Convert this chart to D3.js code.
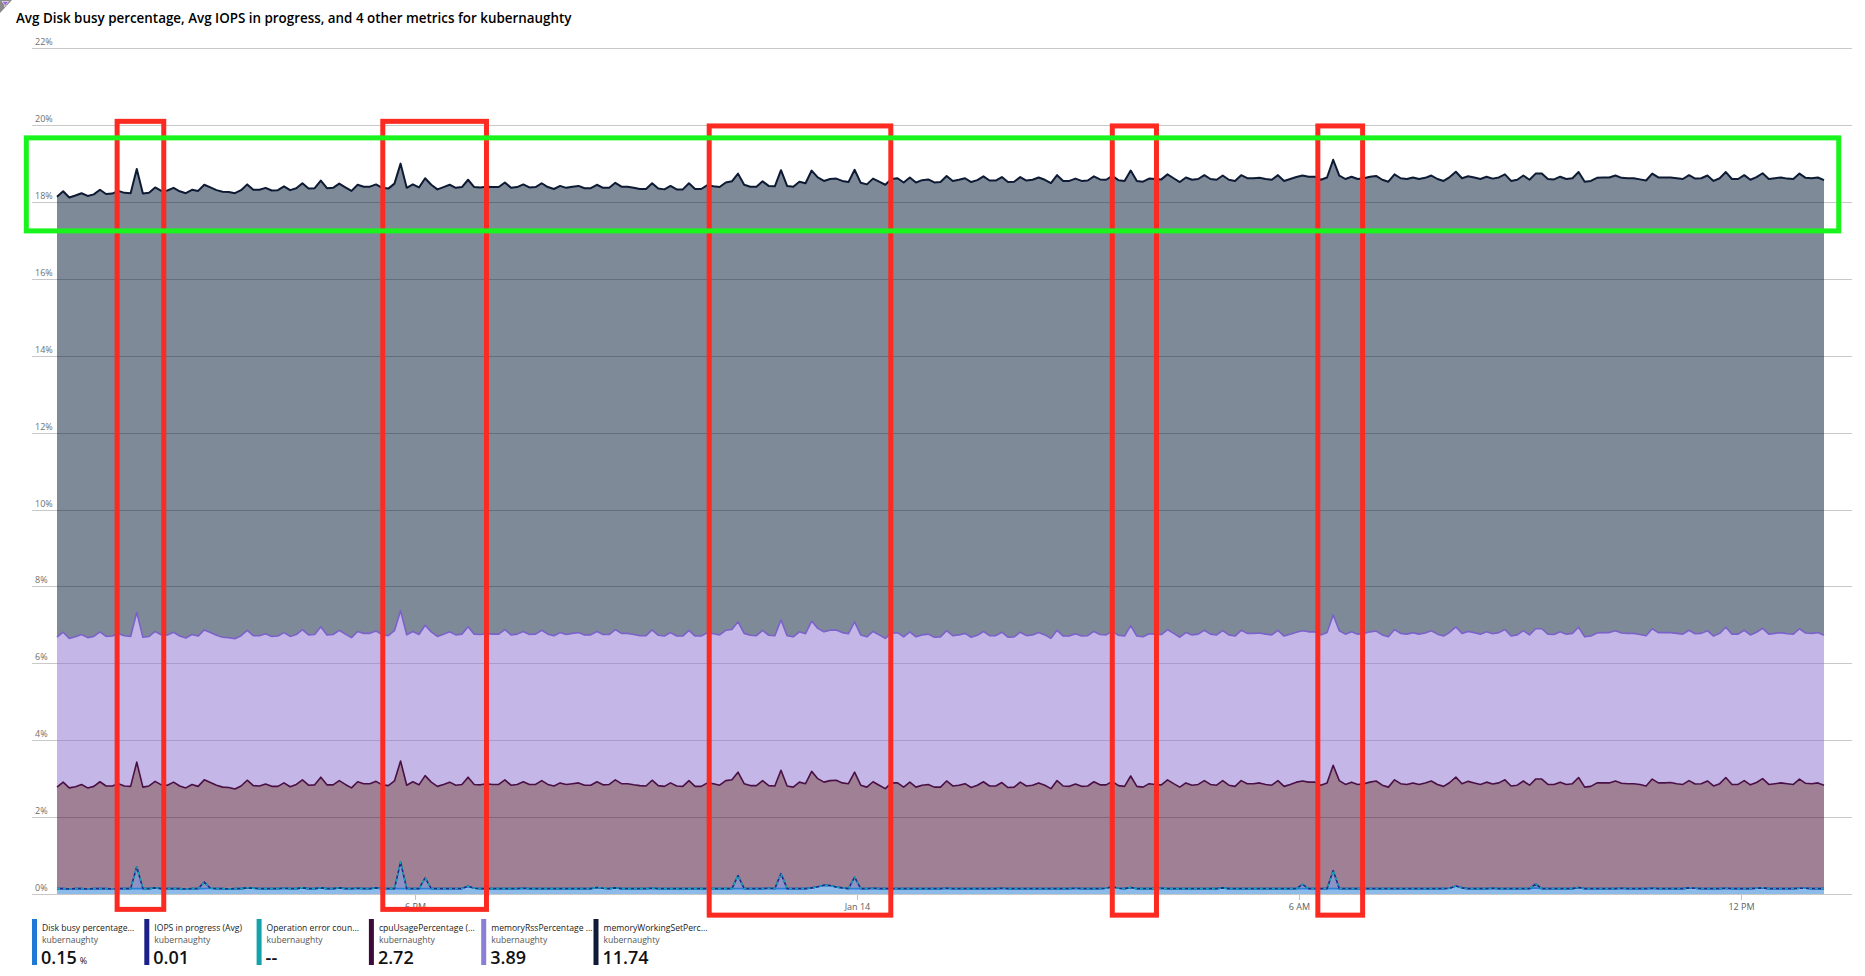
<!DOCTYPE html>
<html><head><meta charset="utf-8">
<script src="https://cdn.jsdelivr.net/npm/d3@7"></script>
<style>
html,body{margin:0;padding:0;background:#fff;}
svg{display:block;font-family:"Open Sans","Noto Sans",sans-serif;}
</style></head><body>
<svg id="chart" width="1865" height="976"></svg>
<script>
// ---------------- DATA ----------------
const chartTitle = "Avg Disk busy percentage, Avg IOPS in progress, and 4 other metrics for kubernaughty";
const startTime = "2020-01-13T13:08:00";
const endTime = "2020-01-14T13:08:00";
const stepMinutes = 5;

const seriesKeys = ["disk", "iops", "err", "cpu", "rss", "ws"];
const legendNames = ["Disk busy percentage...", "IOPS in progress (Avg)", "Operation error coun...", "cpuUsagePercentage (...", "memoryRssPercentage ...", "memoryWorkingSetPerc..."];
const legendResource = "kubernaughty";
const legendValues = ["0.15", "0.01", "--", "2.72", "3.89", "11.74"];
const legendUnits = ["%", "", "", "", "", ""];

const yTicks = [0, 2, 4, 6, 8, 10, 12, 14, 16, 18, 20, 22];
const xTickTimes = ["2020-01-13T18:00:00", "2020-01-14T00:00:00", "2020-01-14T06:00:00", "2020-01-14T12:00:00"];
const xTickLabels = ["6 PM", "Jan 14", "6 AM", "12 PM"];

const disk = [
0.14,0.14,0.13,0.14,0.14,0.13,0.14,0.14,0.14,0.13,
0.14,0.14,0.14,0.14,0.14,0.14,0.16,0.14,0.14,0.14,
0.14,0.13,0.14,0.14,0.14,0.15,0.14,0.14,0.13,0.14,
0.14,0.16,0.15,0.14,0.14,0.14,0.14,0.15,0.14,0.14,
0.16,0.14,0.14,0.16,0.14,0.14,0.16,0.14,0.14,0.15,
0.14,0.14,0.16,0.14,0.14,0.14,0.14,0.14,0.14,0.14,
0.14,0.14,0.14,0.14,0.14,0.14,0.14,0.20,0.15,0.14,
0.14,0.14,0.14,0.14,0.14,0.14,0.15,0.14,0.14,0.14,
0.14,0.14,0.14,0.14,0.14,0.14,0.14,0.14,0.17,0.15,
0.14,0.16,0.14,0.14,0.14,0.14,0.14,0.15,0.14,0.14,
0.14,0.14,0.14,0.14,0.14,0.14,0.14,0.14,0.14,0.14,
0.14,0.14,0.14,0.14,0.14,0.14,0.15,0.14,0.14,0.14,
0.14,0.14,0.14,0.16,0.19,0.23,0.22,0.18,0.16,0.14,
0.14,0.14,0.14,0.15,0.14,0.14,0.14,0.14,0.14,0.14,
0.14,0.14,0.14,0.14,0.14,0.15,0.14,0.14,0.14,0.14,
0.14,0.14,0.14,0.14,0.15,0.14,0.14,0.14,0.14,0.14,
0.14,0.14,0.14,0.14,0.14,0.14,0.15,0.14,0.14,0.14,
0.14,0.15,0.19,0.15,0.14,0.17,0.14,0.14,0.14,0.14,
0.15,0.14,0.14,0.14,0.14,0.14,0.14,0.14,0.14,0.14,
0.16,0.14,0.14,0.14,0.14,0.14,0.14,0.14,0.14,0.14,
0.14,0.14,0.14,0.14,0.14,0.14,0.14,0.14,0.14,0.14,
0.14,0.14,0.14,0.14,0.14,0.14,0.14,0.14,0.14,0.14,
0.14,0.14,0.14,0.14,0.14,0.14,0.14,0.15,0.21,0.16,
0.14,0.14,0.14,0.14,0.15,0.14,0.14,0.14,0.14,0.14,
0.14,0.16,0.14,0.14,0.14,0.14,0.14,0.14,0.17,0.14,
0.14,0.14,0.14,0.14,0.14,0.15,0.14,0.14,0.14,0.14,
0.15,0.14,0.14,0.14,0.14,0.14,0.16,0.15,0.14,0.14,
0.14,0.14,0.15,0.14,0.14,0.14,0.14,0.15,0.16,0.14,
0.14,0.14,0.14,0.14,0.15,0.15,0.14,0.14,0.14];

const iops = [
0,0,0,0,0,0,0,0,0,0,
0,0,0,0.57,0,0,0,0,0,0,
0,0,0,0,0.17,0,0,0,0,0,
0,0,0,0,0,0,0,0,0,0,
0,0,0,0,0,0,0,0,0,0,
0,0,0,0,0,0,0.69,0,0,0,
0.28,0,0,0,0,0,0,0,0,0,
0,0,0,0,0,0,0,0,0,0,
0,0,0,0,0,0,0,0,0,0,
0,0,0,0,0,0,0,0,0,0,
0,0,0,0,0,0,0,0,0,0,
0,0.34,0,0,0,0,0,0,0.39,0,
0,0,0,0,0,0,0,0,0,0,
0.30,0,0,0,0,0,0,0,0,0,
0,0,0,0,0,0,0,0,0,0,
0,0,0,0,0,0,0,0,0,0,
0,0,0,0,0,0,0,0,0,0,
0,0,0,0,0,0,0,0,0,0,
0,0,0,0,0,0,0,0,0,0,
0,0,0,0,0,0,0,0,0,0,
0,0,0,0.11,0,0,0,0,0.47,0,
0,0,0,0,0,0,0,0,0,0,
0,0,0,0,0,0,0,0,0,0,
0,0,0,0,0,0,0,0,0,0,
0,0.10,0,0,0,0,0,0,0,0,
0,0,0,0,0,0,0,0,0,0,
0,0,0,0,0,0,0,0,0,0,
0,0,0,0,0,0,0,0,0,0,
0,0,0,0,0,0,0,0,0];

const err = [
0,0,0,0,0,0,0,0,0,0, 0,0,0,0,0,0,0,0,0,0, 0,0,0,0,0,0,0,0,0,0,
0,0,0,0,0,0,0,0,0,0, 0,0,0,0,0,0,0,0,0,0, 0,0,0,0,0,0,0,0,0,0,
0,0,0,0,0,0,0,0,0,0, 0,0,0,0,0,0,0,0,0,0, 0,0,0,0,0,0,0,0,0,0,
0,0,0,0,0,0,0,0,0,0, 0,0,0,0,0,0,0,0,0,0, 0,0,0,0,0,0,0,0,0,0,
0,0,0,0,0,0,0,0,0,0, 0,0,0,0,0,0,0,0,0,0, 0,0,0,0,0,0,0,0,0,0,
0,0,0,0,0,0,0,0,0,0, 0,0,0,0,0,0,0,0,0,0, 0,0,0,0,0,0,0,0,0,0,
0,0,0,0,0,0,0,0,0,0, 0,0,0,0,0,0,0,0,0,0, 0,0,0,0,0,0,0,0,0,0,
0,0,0,0,0,0,0,0,0,0, 0,0,0,0,0,0,0,0,0,0, 0,0,0,0,0,0,0,0,0,0,
0,0,0,0,0,0,0,0,0,0, 0,0,0,0,0,0,0,0,0,0, 0,0,0,0,0,0,0,0,0,0,
0,0,0,0,0,0,0,0,0,0, 0,0,0,0,0,0,0,0,0];

const cpu = [
2.64,2.77,2.63,2.65,2.71,2.63,2.66,2.78,2.67,2.68,2.73,2.67,2.66,
2.72,
2.64,2.67,2.77,2.70,2.69,2.77,2.67,2.63,2.71,2.66,
2.66,
2.75,2.69,2.64,2.64,2.59,2.67,2.80,2.67,2.67,2.72,2.66,
2.66,2.74,2.65,2.71,2.81,2.69,2.70,2.88,2.70,2.70,2.79,
2.71,2.62,2.77,2.73,2.73,2.77,2.70,2.68,2.80,
2.63,
2.69,2.78,2.70,
2.66,
2.77,2.66,2.71,2.77,2.69,2.71,
2.84,
2.70,2.70,2.73,2.71,2.71,
2.83,2.69,2.71,2.77,2.71,2.71,2.81,2.71,2.67,2.75,2.71,
2.73,2.75,2.69,2.69,2.75,2.69,2.71,2.81,2.73,2.73,2.70,
2.68,2.67,2.81,2.68,2.66,2.75,2.67,2.66,2.81,2.66,2.66,
2.75,2.73,2.69,2.81,2.83,
2.69,
2.73,2.68,2.68,2.81,2.67,2.67,
2.69,
2.67,2.64,2.77,2.73,
3.03,2.81,2.68,2.73,2.78,
2.73,2.73,
2.73,
2.69,2.64,2.77,2.69,2.60,2.75,2.75,2.64,2.77,2.64,2.69,2.71,2.64,
2.64,2.79,2.67,2.69,2.73,2.63,2.69,2.78,2.67,2.67,2.75,
2.63,2.64,2.77,2.67,2.69,2.75,2.69,2.60,2.81,2.67,2.66,
2.71,2.66,2.67,2.78,2.70,2.69,2.74,2.67,2.66,2.90,2.66,
2.64,2.73,2.71,2.69,2.83,2.73,2.64,2.75,2.69,2.71,2.81,
2.71,2.69,2.79,2.69,2.66,2.81,2.73,2.73,2.75,2.71,2.69,
2.81,2.66,2.71,2.77,2.69,2.77,2.77,2.69,2.75,
2.74,
2.81,2.71,2.77,2.71,2.73,2.77,
2.80,2.69,2.64,2.83,2.73,2.71,2.75,2.71,2.75,2.80,2.71,2.66,2.75,
2.83,
2.71,2.79,2.75,2.71,2.77,2.71,2.75,2.83,2.67,2.69,2.80,2.69,
2.73,
2.85,2.71,2.71,2.77,2.71,2.73,2.86,2.64,2.66,2.75,2.75,
2.75,2.80,2.73,2.73,2.73,2.71,2.67,2.84,2.75,2.75,2.76,
2.73,2.71,2.79,2.71,2.73,2.80,2.67,2.73,2.88,2.71,2.71,
2.81,2.70,2.75,2.84,2.71,2.73,2.75,2.73,2.71,2.84,2.73,2.73,2.75,2.69];

const rss = [
3.90,3.90,3.89,3.90,3.90,3.91,3.90,3.90,3.89,3.90,
3.90,3.91,3.90,3.90,3.90,3.89,3.90,3.90,3.91,3.90,
3.90,3.90,3.90,3.91,3.90,3.90,3.90,3.90,3.90,3.91,
3.91,3.90,3.90,3.91,3.91,3.90,3.91,3.91,3.91,3.90,
3.91,3.91,3.91,3.91,3.90,3.91,3.91,3.91,3.91,3.91,
3.91,3.91,3.91,3.91,3.90,3.91,3.91,3.91,3.91,3.91,
3.91,3.91,3.90,3.91,3.91,3.91,3.91,3.91,3.91,3.91,
3.90,3.91,3.91,3.91,3.91,3.91,3.91,3.90,3.91,3.91,
3.91,3.91,3.91,3.90,3.91,3.91,3.91,3.91,3.91,3.91,
3.90,3.91,3.91,3.91,3.91,3.90,3.91,3.91,3.91,3.91,
3.91,3.90,3.91,3.91,3.91,3.91,3.91,3.90,3.91,3.91,
3.91,3.91,3.91,3.91,3.90,3.91,3.91,3.91,3.91,3.91,
3.91,3.91,3.90,3.91,3.91,3.91,3.91,3.91,3.91,3.90,
3.91,3.91,3.91,3.91,3.91,3.91,3.90,3.91,3.91,3.91,
3.91,3.91,3.91,3.90,3.91,3.91,3.91,3.91,3.91,3.91,
3.90,3.91,3.91,3.91,3.91,3.91,3.91,3.90,3.91,3.91,
3.91,3.91,3.91,3.91,3.90,3.91,3.91,3.91,3.91,3.91,
3.91,3.90,3.91,3.91,3.91,3.91,3.91,3.91,3.90,3.91,
3.91,3.91,3.91,3.90,3.91,3.91,3.91,3.91,3.91,3.91,
3.90,3.91,3.91,3.91,3.91,3.91,3.90,3.91,3.91,3.91,
3.91,3.91,3.90,3.91,3.91,3.91,3.91,3.91,3.91,3.90,
3.91,3.91,3.91,3.91,3.91,3.90,3.91,3.91,3.91,3.91,
3.91,3.91,3.91,3.90,3.91,3.91,3.91,3.91,3.91,3.91,
3.90,3.91,3.91,3.91,3.91,3.91,3.91,3.90,3.91,3.91,
3.91,3.91,3.91,3.91,3.90,3.91,3.91,3.91,3.91,3.91,
3.91,3.90,3.91,3.91,3.91,3.91,3.91,3.91,3.90,3.91,
3.91,3.91,3.91,3.90,3.91,3.91,3.91,3.91,3.91,3.91,
3.90,3.91,3.91,3.91,3.91,3.91,3.90,3.91,3.91,3.91,
3.91,3.91,3.90,3.91,3.91,3.91,3.91,3.91,3.90];

const ws = [
11.46,11.47,11.47,11.48,11.48,11.49,11.50,11.50,11.51,11.51,
11.52,11.52,11.53,11.53,11.54,11.54,11.55,11.55,11.56,11.56,
11.57,11.57,11.57,11.58,11.58,11.58,11.58,11.59,11.59,11.59,
11.59,11.60,11.60,11.60,11.60,11.60,11.60,11.61,11.61,11.61,
11.61,11.61,11.61,11.61,11.62,11.62,11.62,11.62,11.62,11.62,
11.62,11.62,11.62,11.62,11.63,11.63,11.63,11.63,11.63,11.63,
11.63,11.63,11.63,11.63,11.63,11.63,11.63,11.63,11.63,11.63,
11.63,11.63,11.63,11.63,11.63,11.63,11.63,11.63,11.63,11.63,
11.63,11.62,11.62,11.62,11.62,11.62,11.62,11.62,11.62,11.62,
11.62,11.62,11.62,11.62,11.62,11.62,11.62,11.62,11.62,11.62,
11.62,11.62,11.62,11.63,11.63,11.63,11.64,11.64,11.65,11.65,
11.66,11.66,11.67,11.67,11.68,11.68,11.69,11.69,11.70,11.70,
11.71,11.71,11.72,11.72,11.73,11.73,11.74,11.74,11.75,11.75,
11.76,11.76,11.77,11.78,11.79,11.80,11.81,11.82,11.82,11.82,
11.82,11.83,11.83,11.83,11.83,11.83,11.83,11.84,11.84,11.84,
11.84,11.84,11.84,11.84,11.84,11.84,11.84,11.84,11.84,11.84,
11.84,11.84,11.84,11.84,11.84,11.84,11.84,11.84,11.84,11.84,
11.84,11.84,11.84,11.84,11.84,11.84,11.84,11.84,11.84,11.84,
11.84,11.84,11.84,11.84,11.84,11.84,11.84,11.84,11.84,11.84,
11.84,11.84,11.84,11.84,11.84,11.84,11.84,11.84,11.84,11.84,
11.84,11.84,11.84,11.84,11.84,11.84,11.84,11.84,11.84,11.84,
11.84,11.84,11.84,11.84,11.84,11.84,11.84,11.84,11.84,11.84,
11.84,11.84,11.84,11.84,11.84,11.84,11.84,11.84,11.84,11.84,
11.84,11.84,11.84,11.84,11.84,11.84,11.84,11.84,11.84,11.84,
11.84,11.84,11.84,11.84,11.84,11.84,11.84,11.84,11.84,11.84,
11.84,11.84,11.84,11.84,11.84,11.84,11.84,11.84,11.84,11.84,
11.84,11.84,11.84,11.84,11.84,11.84,11.84,11.84,11.84,11.84,
11.84,11.84,11.84,11.84,11.84,11.84,11.84,11.84,11.84,11.84,
11.84,11.84,11.84,11.84,11.84,11.84,11.84,11.84,11.84];

// annotation boxes (time range, value range)
const redBoxes = [
  {from: "2020-01-13T13:57:00", to: "2020-01-13T14:35:00", top: 20.10, bottom: -0.40},
  {from: "2020-01-13T17:33:30", to: "2020-01-13T18:58:00", top: 20.10, bottom: -0.40},
  {from: "2020-01-13T21:59:30", to: "2020-01-14T00:27:30", top: 19.98, bottom: -0.55},
  {from: "2020-01-14T03:28:00", to: "2020-01-14T04:04:00", top: 19.98, bottom: -0.55},
  {from: "2020-01-14T06:15:30", to: "2020-01-14T06:52:00", top: 19.98, bottom: -0.55}
];
const greenBoxes = [
  {from: "2020-01-13T12:43:00", to: "2020-01-14T13:20:00", top: 19.67, bottom: 17.25}
];

// ---------------- STYLE ----------------
const seriesColor = {disk:"#1b78d3", iops:"#1b2a8c", err:"#13a1ab", cpu:"#41012b", rss:"#896fd1", ws:"#001533"};
const lineColor = {disk:"#2a7fd6", iops:"#1b2a8c", err:"#17a7b2", cpu:"#4a1046", rss:"#7a62c9", ws:"#0d1a33"};
const legendBarColor = ["#1f78d4", "#1b2188", "#14a2ab", "#3d0a3a", "#8a7fd8", "#0f1c35"];

const plot = {left: 57, right: 1824, top: 48.3, bottom: 894, gridLeft: 32, gridRight: 1852};

const svg = d3.select("#chart");
const parse = s => new Date(s);
const t0 = parse(startTime);
const times = cpu.map((_, i) => new Date(t0.getTime() + i * stepMinutes * 60000));
const rows = times.map((t, i) => ({t, disk: disk[i], iops: iops[i], err: err[i], cpu: cpu[i], rss: rss[i], ws: ws[i]}));

const x = d3.scaleTime().domain([t0, parse(endTime)]).range([plot.left, plot.right]);
const y = d3.scaleLinear().domain([0, 22]).range([plot.bottom, plot.top]);

// title
svg.append("text").attr("x", 16).attr("y", 23)
  .attr("font-size", 13.4).attr("font-weight", 600).attr("fill", "#000")
  .text(chartTitle);

// corner icon
svg.append("path").attr("d", "M0,0 L12,0 L0,13 Z").attr("fill", "#8a8a8a");
svg.append("path").attr("d", "M2,1.5 L8.5,1.5 L6,4.5 L6,7.5 L4.5,6.5 L4.5,4.5 Z").attr("fill", "#a260d8").attr("stroke", "#fff").attr("stroke-width", 0.6);

// gridlines
const grid = svg.append("g");
grid.selectAll("line").data(yTicks).join("line")
  .attr("x1", plot.gridLeft).attr("x2", plot.gridRight)
  .attr("y1", d => Math.round(y(d)) + 0.5).attr("y2", d => Math.round(y(d)) + 0.5)
  .attr("stroke", "#c9c9c9").attr("stroke-width", 1);
grid.selectAll("text").data(yTicks).join("text")
  .attr("x", 35).attr("y", d => Math.round(y(d)) - 3)
  .attr("font-size", 9).attr("fill", "#6e6e6e")
  .text(d => d + "%");

// x ticks
const xt = svg.append("g");
xTickTimes.forEach((s, i) => {
  const px = Math.round(x(parse(s))) + 0.5;
  xt.append("line").attr("x1", px).attr("x2", px).attr("y1", plot.bottom + 1).attr("y2", plot.bottom + 6)
    .attr("stroke", "#c4c4c4");
  xt.append("text").attr("x", px).attr("y", plot.bottom + 16).attr("text-anchor", "middle")
    .attr("font-size", 9).attr("fill", "#5e5e5e").text(xTickLabels[i]);
});

// stacked areas
const stack = d3.stack().keys(seriesKeys);
const layers = stack(rows);
const area = d3.area().x(d => x(d.data.t)).y0(d => y(d[0])).y1(d => y(d[1]));
const line = d3.line().x(d => x(d.data.t)).y(d => y(d[1]));

svg.append("g").selectAll("path").data(layers).join("path")
  .attr("d", area)
  .attr("fill", d => seriesColor[d.key]).attr("fill-opacity", 0.5);

svg.append("g").selectAll("path").data(layers).join("path")
  .attr("d", line).attr("fill", "none")
  .attr("stroke", d => lineColor[d.key])
  .attr("stroke-width", d => d.key === "ws" ? 2 : 1.6)
  .attr("stroke-dasharray", d => d.key === "err" ? "3,3" : null)
  .attr("stroke-linejoin", "round");

// annotations
const ann = svg.append("g").attr("fill", "none");
ann.selectAll("rect.red").data(redBoxes).join("rect").attr("class", "red")
  .attr("x", d => x(parse(d.from))).attr("width", d => x(parse(d.to)) - x(parse(d.from)))
  .attr("y", d => y(d.top)).attr("height", d => y(d.bottom) - y(d.top))
  .attr("stroke", "#fb2b22").attr("stroke-width", 5);
ann.selectAll("rect.green").data(greenBoxes).join("rect").attr("class", "green")
  .attr("x", d => x(parse(d.from))).attr("width", d => x(parse(d.to)) - x(parse(d.from)))
  .attr("y", d => y(d.top)).attr("height", d => y(d.bottom) - y(d.top))
  .attr("stroke", "#19f51c").attr("stroke-width", 5);

// legend
const lg = svg.append("g");
legendNames.forEach((name, i) => {
  const lx = 32 + i * 112.3;
  const g = lg.append("g").attr("transform", `translate(${lx},0)`);
  g.append("rect").attr("x", 0).attr("y", 919).attr("width", 5).attr("height", 46).attr("fill", legendBarColor[i]);
  g.append("text").attr("x", 10).attr("y", 931).attr("font-size", 8.6).attr("fill", "#1a1a1a").text(name);
  g.append("text").attr("x", 10).attr("y", 943).attr("font-size", 8.6).attr("fill", "#555").text(legendResource);
  const v = g.append("text").attr("x", 9).attr("y", 964).attr("font-size", 18).attr("font-weight", 600).attr("fill", "#111");
  v.append("tspan").text(legendValues[i]);
  if (legendUnits[i]) v.append("tspan").attr("font-size", 9).attr("font-weight", 400).attr("dx", 3).text(legendUnits[i]);
});
</script>
</body></html>
